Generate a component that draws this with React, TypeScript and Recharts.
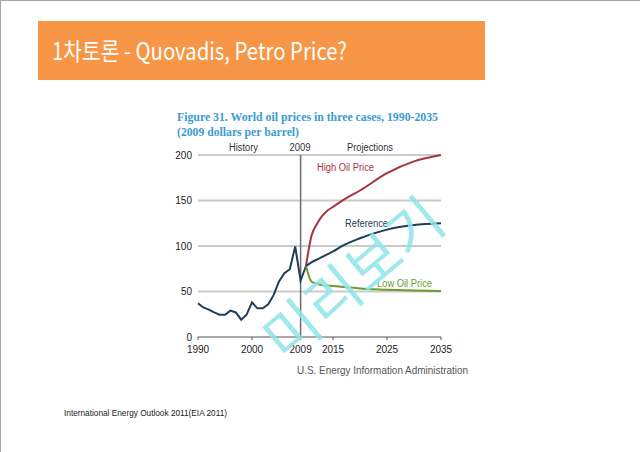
import React from 'react';
import { LineChart, Line, XAxis, YAxis, CartesianGrid, ReferenceLine } from 'recharts';

const historyYears = [1990, 1991, 1992, 1993, 1994, 1995, 1996, 1997, 1998, 1999, 2000, 2001, 2002, 2003, 2004, 2005, 2006, 2007, 2008, 2009, 2010];
const historyPrices = [37, 32.5, 30, 27, 24.5, 24.5, 29, 27, 19, 24.5, 38, 31.5, 31.5, 36, 46, 61, 70, 74.5, 99.5, 62, 78];

const projectionYears = [2010, 2011, 2012, 2013, 2014, 2015, 2017, 2020, 2025, 2030, 2035];
const referencePrices = [78, 82, 85, 88, 91, 94, 101, 108.5, 118, 123, 125];
const highPrices = [78, 111, 124, 133, 139, 143, 151, 161, 180, 193, 200];
const lowPrices = [78, 61, 58.5, 57, 56.5, 56, 55, 53.3, 52, 51, 50.5];

const xTicks = [1990, 2000, 2009, 2015, 2025, 2035];
const yTicks = [0, 50, 100, 150, 200];

const toRows = (years: number[], values: number[]) => years.map((year, i) => ({ year, price: values[i] }));

const historyData = toRows(historyYears, historyPrices);
const referenceData = toRows(projectionYears, referencePrices);
const highData = toRows(projectionYears, highPrices);
const lowData = toRows(projectionYears, lowPrices);

const NAVY = '#1c3f5e';
const RED = '#a6343f';
const GREEN = '#6b9d2e';
const SANS = '"Liberation Sans", Arial, sans-serif';

export default function App() {
  return (
    <div
      style={{
        position: 'absolute',
        left: 0,
        top: 0,
        width: 639,
        height: 451,
        background: '#fff',
        borderTop: '1px solid #a6a6a6',
        borderLeft: '1px solid #a6a6a6',
        overflow: 'hidden',
      }}
    >
      <div style={{ position: 'absolute', left: 37, top: 20, width: 447, height: 59, background: '#f79646' }} />

      <div style={{ position: 'absolute', left: 149, top: 139 }}>
        <LineChart width={320} height={230} margin={{ top: 15, right: 29, left: 0, bottom: 8 }}>
          <CartesianGrid vertical={false} horizontalValues={[50, 100, 150, 200]} stroke="#cacaca" strokeWidth={2} />
          <XAxis
            type="number"
            dataKey="year"
            domain={[1990, 2035]}
            ticks={xTicks}
            height={25}
            tickSize={3}
            tickMargin={6}
            stroke="#555"
            tick={{ fill: '#222', fontSize: 10, fontFamily: SANS }}
            allowDuplicatedCategory={false}
          />
          <YAxis
            domain={[0, 200]}
            ticks={yTicks}
            width={48}
            axisLine={false}
            tickLine={false}
            tickSize={0}
            tickMargin={6}
            tick={{ fill: '#222', fontSize: 10, fontFamily: SANS }}
          />
          <ReferenceLine x={2009} stroke="#6e6e6e" strokeWidth={1.5} />
          <Line data={historyData} dataKey="price" type="linear" stroke={NAVY} strokeWidth={2} dot={false} isAnimationActive={false} />
          <Line data={highData} dataKey="price" type="monotone" stroke={RED} strokeWidth={2} dot={false} isAnimationActive={false} />
          <Line data={lowData} dataKey="price" type="monotone" stroke={GREEN} strokeWidth={2} dot={false} isAnimationActive={false} />
          <Line data={referenceData} dataKey="price" type="monotone" stroke={NAVY} strokeWidth={2} dot={false} isAnimationActive={false} />
        </LineChart>
      </div>

      <svg width={640} height={452} style={{ position: 'absolute', left: -1, top: -1, pointerEvents: 'none' }}>
        <text x={52} y={59.5} fontSize={24} fill="#fff" fontFamily='"Noto Sans CJK KR", sans-serif' textLength={295} lengthAdjust="spacingAndGlyphs">
          1차토론 - Quovadis, Petro Price?
        </text>
        <text x={177} y={121} fontSize={12} fontWeight="bold" fill="#3a9bd1" fontFamily='"Liberation Serif", serif' textLength={261} lengthAdjust="spacingAndGlyphs">
          Figure 31. World oil prices in three cases, 1990-2035
        </text>
        <text x={177} y={136} fontSize={12} fontWeight="bold" fill="#3a9bd1" fontFamily='"Liberation Serif", serif' textLength={122} lengthAdjust="spacingAndGlyphs">
          (2009 dollars per barrel)
        </text>
        <g fontSize={10} fill="#333" fontFamily={SANS}>
          <text x={229} y={151} textLength={29} lengthAdjust="spacingAndGlyphs">History</text>
          <text x={289.5} y={151} textLength={21} lengthAdjust="spacingAndGlyphs">2009</text>
          <text x={347} y={151} textLength={46} lengthAdjust="spacingAndGlyphs">Projections</text>
        </g>
        <g fontSize={10} fontFamily={SANS}>
          <text x={317} y={170.5} fill={RED} textLength={57} lengthAdjust="spacingAndGlyphs">High Oil Price</text>
          <text x={345} y={227} fill={NAVY} textLength={43} lengthAdjust="spacingAndGlyphs">Reference</text>
          <text x={377} y={286.5} fill={GREEN} textLength={55} lengthAdjust="spacingAndGlyphs">Low Oil Price</text>
        </g>
        <text x={297} y={374} fontSize={11} fill="#555" fontFamily={SANS} textLength={171} lengthAdjust="spacingAndGlyphs">
          U.S. Energy Information Administration
        </text>
        <text x={64} y={415.5} fontSize={9} fill="#222" fontFamily={SANS} textLength={163} lengthAdjust="spacingAndGlyphs">
          International Energy Outlook 2011(EIA 2011)
        </text>
        <text
          x={357}
          y={283}
          fontSize={58}
          fill="#8fe6ea"
          opacity={0.85}
          textAnchor="middle"
          dominantBaseline="middle"
          fontFamily='"Noto Sans CJK KR", sans-serif'
          transform="rotate(-40 357 283)"
        >
          미리보기
        </text>
      </svg>
    </div>
  );
}
